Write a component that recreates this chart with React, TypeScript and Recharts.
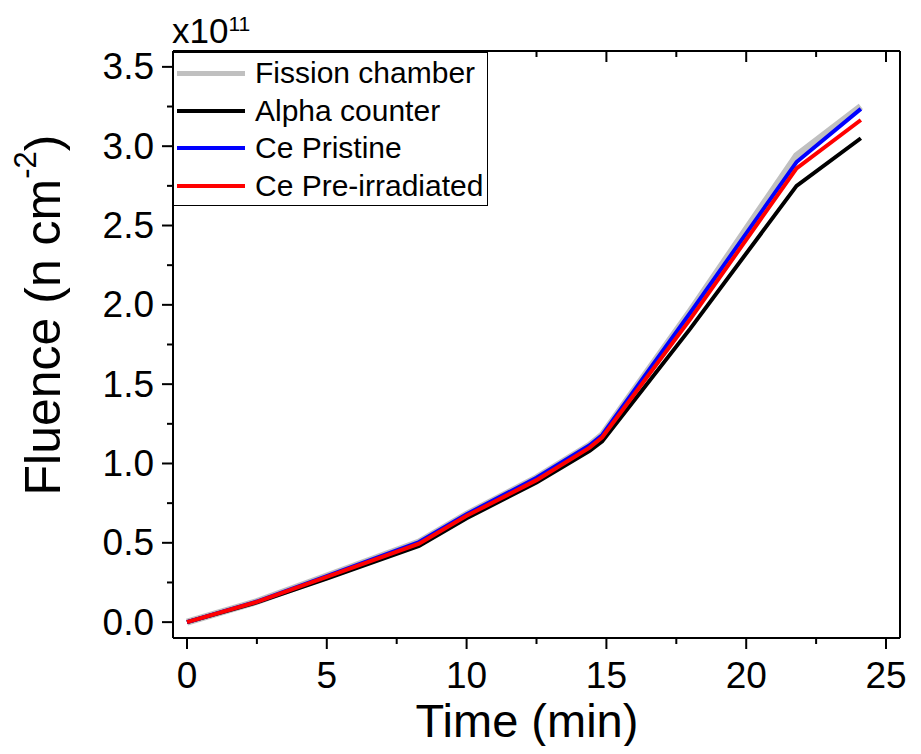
import React from "react";
import { LineChart, Line, XAxis, YAxis, Legend, Label } from "recharts";

const FONT = '"Liberation Sans", Arial, sans-serif';

const times = [0, 2.5, 5, 8.3, 10, 12.5, 14.4, 14.85, 18, 21.8, 24.1];
const fission = [0, 0.13, 0.29, 0.505, 0.68, 0.91, 1.115, 1.18, 1.96, 2.94, 3.25];
const alpha = [0, 0.125, 0.275, 0.48, 0.655, 0.88, 1.08, 1.14, 1.85, 2.75, 3.05];
const pristine = [0, 0.13, 0.29, 0.505, 0.68, 0.91, 1.115, 1.18, 1.95, 2.9, 3.235];
const preIrr = [0, 0.128, 0.285, 0.495, 0.67, 0.895, 1.1, 1.165, 1.91, 2.86, 3.165];

const seriesKeys = ["fission", "alpha", "pristine", "preIrr"];
const seriesNames = ["Fission chamber", "Alpha counter", "Ce Pristine", "Ce Pre-irradiated"];
const seriesColors = ["#c0c0c0", "#000000", "#0000ff", "#ff0000"];
const seriesWidths = [7, 4, 4, 4];

const xTicks = [0, 2.5, 5, 7.5, 10, 12.5, 15, 17.5, 20, 22.5, 25];
const yTicks = [0, 0.25, 0.5, 0.75, 1, 1.25, 1.5, 1.75, 2, 2.25, 2.5, 2.75, 3, 3.25, 3.5];

const data = times.map((t, i) => ({
  t,
  fission: fission[i],
  alpha: alpha[i],
  pristine: pristine[i],
  preIrr: preIrr[i],
}));

const isMajorX = (v: number) => Math.abs(v % 5) < 1e-6;
const isMajorY = (v: number) => Math.abs((v * 2) % 1) < 1e-6;

const LeftTick = (props: any) => {
  const { x, y, payload } = props;
  const major = isMajorY(payload.value);
  return (
    <g>
      <line x1={x - (major ? 11 : 6)} x2={x} y1={y} y2={y} stroke="#000" strokeWidth={2} />
      {major && (
        <text x={x - 19} y={y} textAnchor="end" dominantBaseline="central" fontSize={37} fontFamily={FONT} fill="#000">
          {payload.value.toFixed(1)}
        </text>
      )}
    </g>
  );
};

const RightTick = (props: any) => {
  const { x, y, payload } = props;
  const major = isMajorY(payload.value);
  return <line x1={x - (major ? 11 : 6)} x2={x} y1={y} y2={y} stroke="#000" strokeWidth={2} />;
};

const BottomTick = (props: any) => {
  const { x, y, payload } = props;
  const major = isMajorX(payload.value);
  return (
    <g>
      <line x1={x} x2={x} y1={y} y2={y + (major ? 11 : 6)} stroke="#000" strokeWidth={2} />
      {major && (
        <text x={x} y={y + 50} textAnchor="middle" fontSize={37} fontFamily={FONT} fill="#000">
          {payload.value}
        </text>
      )}
    </g>
  );
};

const TopTick = (props: any) => {
  const { x, y, payload } = props;
  const major = isMajorX(payload.value);
  return <line x1={x} x2={x} y1={y} y2={y + (major ? 11 : 6)} stroke="#000" strokeWidth={2} />;
};

const YTitle = () => (
  <g>
    <text
      transform="translate(35,307) rotate(-90)"
      textAnchor="middle"
      dominantBaseline="central"
      fontSize={50}
      fontFamily={FONT}
      fill="#000"
    >
      Fluence (n cm
      <tspan fontSize={31} dy={-18}>-2</tspan>
      <tspan dy={18}>)</tspan>
    </text>
    <text x={164} y={35} fontSize={35} fontFamily={FONT} fill="#000">
      x10
      <tspan fontSize={21} dy={-12}>11</tspan>
    </text>
  </g>
);

const XTitle = () => (
  <text x={519} y={729} textAnchor="middle" fontSize={47} fontFamily={FONT} fill="#000">
    Time (min)
  </text>
);

const LegendBox = () => (
  <div
    style={{
      width: 313,
      height: 152,
      border: "1px solid #000",
      background: "#fff",
      fontFamily: FONT,
      fontSize: 30,
      position: "relative",
    }}
  >
    {seriesNames.map((name, i) => (
      <div
        key={name}
        style={{
          position: "absolute",
          left: 0,
          top: 20 + i * 37.7 - 18,
          height: 36,
          display: "flex",
          alignItems: "center",
          whiteSpace: "nowrap",
          color: "#000",
        }}
      >
        <div style={{ marginLeft: 3, width: 68, height: i === 0 ? 5 : 4, background: seriesColors[i] }} />
        <span style={{ marginLeft: 10 }}>{name}</span>
      </div>
    ))}
  </div>
);

export default function App() {
  return (
    <LineChart
      width={905}
      height={738}
      data={data}
      margin={{ top: 42, right: 12, bottom: 107, left: 164 }}
    >
      <XAxis
        dataKey="t"
        type="number"
        domain={[-0.5, 25.5]}
        ticks={xTicks}
        interval={0}
        height={1}
        tickSize={0}
        tickMargin={0}
        tick={<BottomTick />}
        axisLine={{ stroke: "#000", strokeWidth: 2 }}
        tickLine={false}
      >
        <Label content={<XTitle />} />
      </XAxis>
      <XAxis
        xAxisId="top"
        orientation="top"
        dataKey="t"
        type="number"
        domain={[-0.5, 25.5]}
        ticks={xTicks}
        interval={0}
        height={1}
        tickSize={0}
        tickMargin={0}
        tick={<TopTick />}
        axisLine={{ stroke: "#000", strokeWidth: 2 }}
        tickLine={false}
      />
      <YAxis
        type="number"
        domain={[-0.1, 3.6]}
        ticks={yTicks}
        interval={0}
        width={1}
        tickSize={0}
        tickMargin={0}
        tick={<LeftTick />}
        axisLine={{ stroke: "#000", strokeWidth: 2 }}
        tickLine={false}
      >
        <Label content={<YTitle />} />
      </YAxis>
      <YAxis
        yAxisId="right"
        orientation="right"
        type="number"
        domain={[-0.1, 3.6]}
        ticks={yTicks}
        interval={0}
        width={1}
        tickSize={0}
        tickMargin={0}
        tick={<RightTick />}
        axisLine={{ stroke: "#000", strokeWidth: 2 }}
        tickLine={false}
      />
      <Legend
        layout="vertical"
        align="center"
        verticalAlign="middle"
        content={<LegendBox />}
        wrapperStyle={{ left: 165, top: 44, width: 315, height: 154 }}
      />
      {seriesKeys.map((key, i) => (
        <Line
          key={key}
          dataKey={key}
          name={seriesNames[i]}
          stroke={seriesColors[i]}
          strokeWidth={seriesWidths[i]}
          dot={false}
          isAnimationActive={false}
        />
      ))}
    </LineChart>
  );
}
